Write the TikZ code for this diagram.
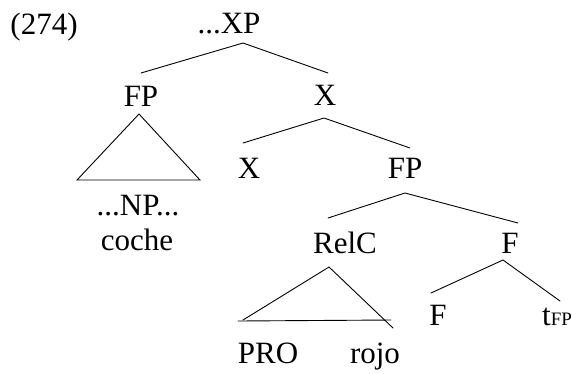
\documentclass[tikz,border=0pt]{standalone}
\usepackage{fontspec}
\setmainfont{Liberation Serif}
\tikzset{
  lbl/.style={anchor=base, inner sep=0pt, font=\fontsize{31}{31}\selectfont},
  branch/.style={line width=0.9pt, line cap=round, line join=miter},
}
\begin{document}
\begin{tikzpicture}[x=1pt,y=-1pt]
\useasboundingbox (0,0) rectangle (572,373);
% labels
\node[lbl] (n274) at (44,34) {(274)};
\node[lbl] (XP) at (229,33) {...XP};
\node[lbl] (FPa) at (141,106) {FP};
\node[lbl] (Xa) at (325,105) {X};
\node[lbl] (NP) at (138,215) {...NP...};
\node[lbl] (coche) at (137,250) {coche};
\node[lbl] (Xb) at (249,178) {X};
\node[lbl] (FPb) at (405,178) {FP};
\node[lbl] (RelC) at (345,253) {RelC};
\node[lbl] (Fa) at (510,253) {F};
\node[lbl] (Fb) at (438,325) {F};
\node[lbl, anchor=base west] (tFP) at (542,325) {t{\fontsize{19}{19}\selectfont FP}};
\node[lbl] (PRO) at (268,363) {PRO};
\node[lbl] (rojo) at (375,363) {rojo};
% branch points
\coordinate (XPb) at (243,43);
\coordinate (FPat) at (141,73);
\coordinate (Xat) at (328,73);
\coordinate (FPaA) at (139,114);
\coordinate (FPaL) at (77,180);
\coordinate (FPaR) at (200,180);
\coordinate (Xab) at (324,118);
\coordinate (Xbt) at (243,143);
\coordinate (FPbt) at (410,148);
\coordinate (FPbb) at (405,193);
\coordinate (RelCt) at (328,218);
\coordinate (Fat) at (518,223);
\coordinate (RelCA) at (329,267);
\coordinate (RelCL) at (243,320);
\coordinate (RelCB) at (238,321);
\coordinate (RelCR) at (391,320);
\coordinate (RelCR2) at (393,328);
\coordinate (Fab) at (503,260);
\coordinate (Fbt) at (431,293);
\coordinate (tFPt) at (560,301);
% branches
\draw[branch] (FPat) -- (XPb) -- (Xat);
\draw[branch] (FPaA) -- (FPaL) -- (FPaR) -- cycle;
\draw[branch] (Xbt) -- (Xab) -- (FPbt);
\draw[branch] (RelCt) -- (FPbb) -- (Fat);
\draw[branch] (RelCL) -- (RelCA) -- (RelCR2);
\draw[branch] (RelCB) -- (RelCR);
\draw[branch] (Fbt) -- (Fab) -- (tFPt);
\end{tikzpicture}
\end{document}
